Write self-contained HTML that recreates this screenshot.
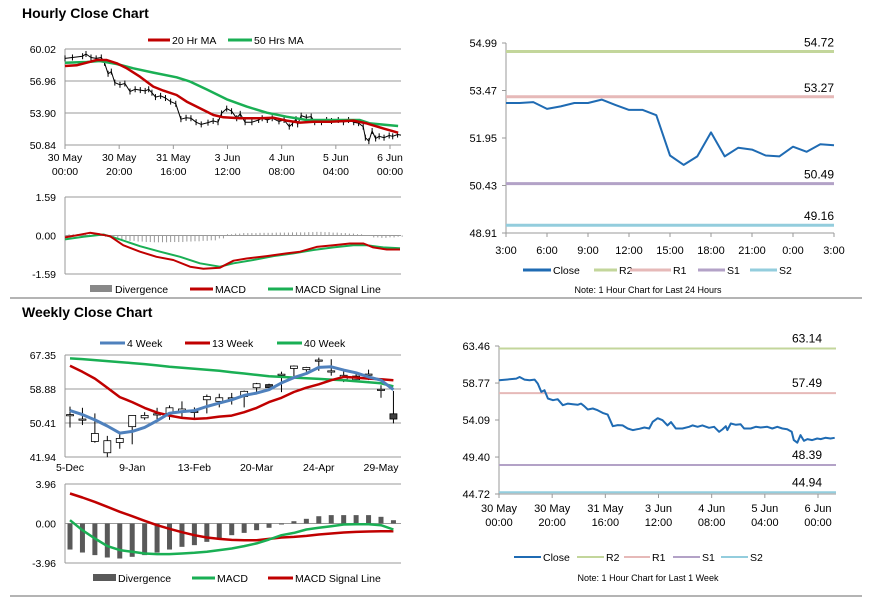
<!DOCTYPE html>
<html><head><meta charset="utf-8"><style>
body{margin:0;background:#fff;}
svg{display:block;font-family:"Liberation Sans",Arial,sans-serif;}
text{font-size:10.5px;fill:#000;}
</style></head><body>
<svg id="s" width="873" height="601" viewBox="0 0 873 601" xmlns="http://www.w3.org/2000/svg">
<defs><clipPath id="c1"><rect x="60" y="40" width="341" height="110"/></clipPath></defs>
<rect width="873" height="601" fill="#fff"/>
<text x="22" y="18" style="font-size:14px;font-weight:bold">Hourly Close Chart</text>
<text x="22" y="317" style="font-size:14px;font-weight:bold">Weekly Close Chart</text>
<line x1="10" y1="298" x2="862" y2="298" stroke="#888" stroke-width="1.2"/>
<line x1="10" y1="596" x2="862" y2="596" stroke="#888" stroke-width="1.2"/>
</svg>
<script>
// ---- data ----
const weekIdx=[0,2.75,6.5,7.75,9.6,11.5,13.4,14.6,15.9,17.1,18.4,20.3,22.1,24,25.9,27.8,29.6,30.9,32.1,33.4,35.3,37.1,39,40.9,42.8,44.7,46.5,48.4,50.3,52.8,54.7,56.5,57.8,59.7,61.5,63.4,64.7,66.5,69,71.5,72.8,74.7,76.5,79,80.9,82.8,84,85.3,85.9,87.2,89.1,90.9,92.2,94.7,96.6,98.4,100.9,102.8,104.7,106.6,108.4,110.1,110.9,112.2,113.4,114.7,116,117.8,119.7,121,122.8,124.7,126.3];
const weekClose=[59.12,59.21,59.33,59.54,59.21,59.12,59.21,58.70,57.65,57.86,56.81,56.60,56.72,55.96,56.17,56.09,56.01,56.17,55.84,55.42,55.54,55.33,54.99,54.78,53.31,53.44,53.40,53.02,52.81,52.98,53.14,53.02,53.86,54.32,54.07,53.40,53.82,53.02,53.02,53.23,53.40,53.23,53.40,53.10,53.23,52.60,52.89,53.31,52.81,53.65,53.48,53.56,53.02,53.02,53.23,53.14,53.23,53.02,53.23,53.02,52.93,52.60,51.54,51.21,52.18,51.46,51.67,51.54,51.75,51.67,51.84,51.75,51.84];
const hrMaIdx=[0,4.3,8,11.7,15.4,19.1,22.8,27.7,32.6,36.3,41.2,44.9,49.8,54.8,58.5,64.6,72,76.9,81.8,86.8,91.7,97.8,106.5,111.4,117.5,123];
const hrMa20=[58.39,58.46,58.71,58.97,58.97,58.65,58.17,57.37,56.42,56.04,55.62,54.99,54.35,53.71,53.49,53.39,53.39,53.45,53.17,52.98,53.07,53.07,53.17,52.91,52.43,52.02];
const hrMa50Idx=[0,8,12.9,19.1,25.2,32.6,41.2,46.2,52.3,59.7,67.1,74.5,81.8,89.2,97.8,108.9,112.6,117.5,123];
const hrMa50=[58.71,58.78,58.87,58.59,58.17,57.76,57.31,56.90,56.16,55.21,54.51,53.93,53.55,53.23,53.23,53.23,52.91,52.79,52.66];
const hrMacdIdx=[0,4.3,9.2,12.9,16.6,21.5,27.7,33.8,40,46.2,51.1,57.2,62.2,67.1,74.5,81.8,86.8,92.9,99.1,105.2,110.2,113.8,118.8,123.7];
const hrMacd=[-0.08,0.01,0.11,0.05,-0.03,-0.40,-0.67,-0.88,-1.01,-1.29,-1.37,-1.33,-1.04,-0.95,-0.85,-0.74,-0.67,-0.47,-0.40,-0.33,-0.33,-0.49,-0.58,-0.58];
const hrSigIdx=[0,6.8,14.2,20.3,27.7,35.1,42.5,49.8,57.2,62.2,69.5,76.9,84.3,91.7,99.1,106.5,111.4,117.5,123.7];
const hrSig=[-0.16,-0.05,0.04,-0.16,-0.44,-0.67,-0.88,-1.15,-1.29,-1.15,-1.01,-0.85,-0.74,-0.60,-0.49,-0.40,-0.40,-0.49,-0.53];
const hrDiv=[0.05,0.06,0.05,0.04,0.02,-0.05,-0.12,-0.18,-0.22,-0.25,-0.27,-0.28,-0.28,-0.27,-0.27,-0.25,-0.24,-0.22,-0.20,-0.12,0.05,0.08,0.10,0.10,0.11,0.11,0.12,0.12,0.13,0.13,0.14,0.15,0.14,0.12,0.10,0.08,0.05,-0.02,-0.08,-0.10,-0.08,-0.05];
const hrTickLabels=[["30 May","00:00"],["30 May","20:00"],["31 May","16:00"],["3 Jun","12:00"],["4 Jun","08:00"],["5 Jun","04:00"],["6 Jun","00:00"]];

const dayTicks=["3:00","6:00","9:00","12:00","15:00","18:00","21:00","0:00","3:00"];
const dayClose=[53.07,53.07,53.10,52.88,52.96,53.07,53.07,53.18,53.01,52.85,52.85,52.68,51.39,51.09,51.36,52.13,51.36,51.64,51.58,51.39,51.36,51.67,51.51,51.75,51.72];
const dayLevels=[54.72,53.27,50.49,49.16];
const weekLevels=[63.14,57.49,48.39,44.94];
const levelNames=["R2","R1","S1","S2"];

const wkOpen=[52.5,51.4,45.8,43.0,45.55,49.5,51.7,52.7,52.8,53.1,53.3,56.2,55.8,56.7,57.0,59.2,59.97,62.57,64.0,63.7,66.1,63.4,61.2,61.2,62.6,58.8,52.7];
const wkClose=[52.5,51.4,47.8,46.0,46.56,52.3,52.3,52.7,54.2,53.9,53.3,57.0,56.7,56.7,58.3,60.2,59.2,62.57,64.6,64.25,66.1,63.4,62.3,62.1,62.6,58.8,51.4];
const wkHigh=[54.5,54.2,52.8,47.2,47.6,52.4,53.1,54.2,54.8,55.8,54.3,57.5,57.7,57.9,58.5,60.4,60.2,63.2,64.75,64.4,66.7,66.3,63.3,63.2,63.7,59.8,58.4];
const wkLow=[49.3,49.9,45.5,41.9,44.0,45.1,51.2,51.4,51.2,51.8,51.7,52.8,54.3,55.0,54.3,58.1,58.7,58.1,62.1,63.2,63.4,62.2,60.6,60.6,61.1,56.7,50.3];
const wk4=[53.51,52.51,51.17,49.66,47.89,48.31,49.32,50.99,52.84,53.26,53.51,54.52,55.36,56.20,57.29,57.87,58.71,60.39,61.73,62.74,64.25,64.42,63.58,62.91,61.90,61.06,58.71];
const wk13=[64.67,63.16,61.48,59.21,56.87,55.61,54.18,53.01,52.26,51.67,51.42,51.58,52.0,52.26,53.09,54.18,55.61,56.70,58.13,59.21,60.05,61.06,61.90,61.73,61.48,61.31,61.06];
const wk40=[66.51,66.34,66.09,65.84,65.59,65.34,65.09,64.75,64.42,64.16,63.91,63.66,63.41,63.07,62.74,62.40,62.07,61.90,61.73,61.56,61.40,61.23,61.06,60.81,60.56,60.31,59.55];
const wkDiv=[-2.61,-2.91,-3.17,-3.41,-3.51,-3.34,-3.17,-2.91,-2.61,-2.34,-2.17,-1.84,-1.50,-1.17,-0.94,-0.67,-0.43,-0.10,0.23,0.47,0.73,0.84,0.84,0.84,0.84,0.67,0.33];
const wkMacd=[0.33,-0.67,-1.50,-2.27,-2.67,-2.84,-3.01,-3.07,-3.07,-3.01,-2.94,-2.84,-2.67,-2.51,-2.27,-2.00,-1.60,-1.17,-0.94,-0.60,-0.43,-0.27,-0.10,-0.07,-0.07,-0.17,-0.60];
const wkSig=[3.01,2.61,2.17,1.67,1.17,0.73,0.27,-0.17,-0.53,-0.87,-1.17,-1.40,-1.54,-1.64,-1.67,-1.67,-1.54,-1.40,-1.34,-1.24,-1.10,-1.00,-0.90,-0.84,-0.80,-0.77,-0.77];
const wkTickLabels=["5-Dec","9-Jan","13-Feb","20-Mar","24-Apr","29-May"];

// ---- helpers ----
const svg=document.getElementById('s');
const NS='http://www.w3.org/2000/svg';
function mk(tag,attrs,parent){const e=document.createElementNS(NS,tag);for(const k in attrs)e.setAttribute(k,attrs[k]);(parent||svg).appendChild(e);return e;}
function lin(d0,d1,r0,r1){return v=>r0+(v-d0)*(r1-r0)/(d1-d0);}
function txt(x,y,s,anchor,name,size){const t=mk('text',{x:x,y:y,'text-anchor':anchor||'start'});if(size)t.style.fontSize=size+'px';t.textContent=s;


return t;}
function hl(x1,y1,x2,y2,col,w,name,parent){const l=mk('line',{x1:x1,y1:y1,x2:x2,y2:y2,stroke:col,'stroke-width':w},parent);


return l;}
function poly(xs,ys,fx,fy,col,w,name,parent){const p=mk('polyline',{points:xs.map((v,i)=>fx(v).toFixed(1)+','+fy(ys[i]).toFixed(1)).join(' '),fill:'none',stroke:col,'stroke-width':w,'stroke-linejoin':'round'},parent);


return p;}
function legendLine(x1,x2,y,col,w,label,name){hl(x1,y,x2,y,col,w,name+'-swatch');txt(x2+2,y+4,label,'start',name+'-label');}
const RED='#c00000',GRN='#1aaf54',BLUE='#4f81bd',DBLUE='#1f6bb3';

// ===== Hourly price panel =====
{const X=lin(0,120,65,390),Y=lin(50.84,60.02,145,49);
[60.02,56.96,53.90].forEach(v=>hl(65,Y(v),401,Y(v),'#999',1,'hourly-gridline'));
hl(65,49,65,145,'#999',1,'hourly-y-axis');hl(65,145,401,145,'#999',1,'hourly-x-axis');
[60.02,56.96,53.90,50.84].forEach(v=>txt(56,Y(v)+4,v.toFixed(2),'end','hourly-y-tick'));
hrTickLabels.forEach((l,i)=>{const x=X(i*20);hl(x,145,x,149,'#999',1,'hourly-x-tickmark');txt(x,161,l[0],'middle','hourly-x-tick');txt(x,175,l[1],'middle','hourly-x-tick');});
const g=mk('g',{'clip-path':'url(#c1)'});


poly(weekIdx,weekClose,X,Y,'#000',1,'hourly-close-ticks',g);
weekClose.forEach((v,i)=>{hl(X(weekIdx[i]),Y(v)-3,X(weekIdx[i]),Y(v)+3,'#000',1,'hourly-close-bar',g);});
poly(hrMa50Idx,hrMa50,X,Y,GRN,2.5,'hourly-ma50-line',g);
poly(hrMaIdx,hrMa20,X,Y,RED,2.5,'hourly-ma20-line',g);
legendLine(148,170,40,RED,3,'20 Hr MA','legend-20hr-ma');legendLine(228,252,40,GRN,3,'50 Hrs MA','legend-50hr-ma');}

// ===== Hourly MACD =====
{const X=lin(0,120,65,390),Y=lin(-1.59,1.59,274,197);
hl(65,197,401,197,'#999',1,'hourly-macd-top');hl(65,Y(0),401,Y(0),'#999',1,'hourly-macd-zero');hl(65,274,401,274,'#999',1,'hourly-macd-bottom');hl(65,197,65,274,'#999',1,'hourly-macd-y-axis');
[1.59,0,-1.59].forEach(v=>txt(56,Y(v)+4,v.toFixed(2),'end','hourly-macd-y-tick'));
hrDiv.forEach((v,i)=>{for(let k=0;k<2;k++){const x=X(i*3+k*1.5);hl(x,Y(0),x,Y(v),'#999',1,'hourly-divergence-bar');}});
poly(hrSigIdx,hrSig,X,Y,GRN,2,'hourly-macd-signal-line');
poly(hrMacdIdx,hrMacd,X,Y,RED,2,'hourly-macd-line');
const r=mk('rect',{x:90,y:285,width:22,height:7,fill:'#888'});


txt(115,293,'Divergence','start','legend-divergence-label');
legendLine(190,213,289,RED,3,'MACD','legend-macd');legendLine(268,293,289,GRN,3,'MACD Signal Line','legend-macd-signal');}

// ===== 24h pivot panel =====
{const X=lin(0,24,506,834),Y=lin(48.91,54.99,233,43);
hl(506,43,506,233,'#999',1,'day-y-axis');hl(506,233,834,233,'#999',1,'day-x-axis');
[54.99,53.47,51.95,50.43,48.91].forEach(v=>{txt(497,Y(v)+4,v.toFixed(2),'end','day-y-tick',11);hl(502,Y(v),506,Y(v),'#999',1,'day-y-tickmark');});
dayTicks.forEach((l,i)=>{const x=X(i*3);hl(x,233,x,237,'#999',1,'day-x-tickmark');txt(x,254,l,'middle','day-x-tick',11);});
const cols=['#c3d69b','#e6b9b8','#b3a2c7','#93cddd'];
dayLevels.forEach((v,i)=>{hl(506,Y(v),834,Y(v),cols[i],3,'day-level-'+levelNames[i].toLowerCase());txt(834,Y(v)-5,v.toFixed(2),'end','day-level-value',12);});
poly(dayClose.map((v,i)=>i),dayClose,X,Y,DBLUE,2,'day-close-line');
legendLine(523,551,270,DBLUE,3,'Close','legend-day-close');
[[594,617],[630,671],[698,725],[750,777]].forEach((p,i)=>legendLine(p[0],p[1],270,cols[i],3,levelNames[i],'legend-day-'+levelNames[i].toLowerCase()));
txt(648,293,'Note: 1 Hour Chart for Last 24 Hours','middle','day-note',9);}

// ===== Weekly price panel =====
{const X=lin(0,25,70,381),Y=lin(41.94,67.35,457,355);
[67.35,58.88,50.41].forEach(v=>hl(65,Y(v),401,Y(v),'#999',1,'weekly-gridline'));
hl(65,355,65,457,'#999',1,'weekly-y-axis');hl(65,457,401,457,'#999',1,'weekly-x-axis');
[67.35,58.88,50.41,41.94].forEach(v=>txt(56,Y(v)+4,v.toFixed(2),'end','weekly-y-tick'));
wkTickLabels.forEach((l,i)=>txt(X(i*5),471,l,'middle','weekly-x-tick'));
wkOpen.forEach((o,i)=>{const x=X(i),c=wkClose[i];
hl(x,Y(wkHigh[i]),x,Y(wkLow[i]),'#000',1,'weekly-candle-wick');
const top=Math.max(o,c),bot=Math.min(o,c);const h=Math.max(1.2,Y(bot)-Y(top));
const rc=mk('rect',{x:x-3.5,y:Y(top),width:7,height:h,fill:c<o?'#404040':'#fff',stroke:'#000','stroke-width':0.8});

});
const wi=wk4.map((v,i)=>i);
poly(wi,wk40,X,Y,GRN,2.5,'weekly-40wk-line');
poly(wi,wk13,X,Y,RED,2.5,'weekly-13wk-line');
poly(wi,wk4,X,Y,BLUE,3,'weekly-4wk-line');
legendLine(100,125,343,BLUE,3,'4 Week','legend-4-week');legendLine(185,210,343,RED,3,'13 Week','legend-13-week');legendLine(277,302,343,GRN,3,'40 Week','legend-40-week');}

// ===== Weekly MACD =====
{const X=lin(0,25,70,381),Y=lin(-3.96,3.96,563,484);
hl(65,484,401,484,'#999',1,'weekly-macd-top');hl(65,Y(0),401,Y(0),'#999',1,'weekly-macd-zero');hl(65,563,401,563,'#999',1,'weekly-macd-bottom');hl(65,484,65,563,'#999',1,'weekly-macd-y-axis');
[3.96,0,-3.96].forEach(v=>txt(56,Y(v)+4,v.toFixed(2),'end','weekly-macd-y-tick'));
wkDiv.forEach((v,i)=>{const y0=Y(0),y1=Y(v);const rc=mk('rect',{x:X(i)-2.5,y:Math.min(y0,y1),width:5,height:Math.abs(y1-y0),fill:'#595959'});

});
const wi=wkMacd.map((v,i)=>i);
poly(wi,wkSig,X,Y,RED,2.5,'weekly-macd-signal-line');
poly(wi,wkMacd,X,Y,GRN,2.5,'weekly-macd-line');
const r=mk('rect',{x:93,y:574,width:23,height:7,fill:'#595959'});


txt(118,582,'Divergence','start','legend-weekly-divergence-label');
legendLine(192,215,578,GRN,3,'MACD','legend-weekly-macd');legendLine(268,293,578,RED,3,'MACD Signal Line','legend-weekly-macd-signal');}

// ===== 1-week pivot panel =====
{const X=lin(0,120,499,818),Y=lin(44.72,63.46,494,346);
hl(499,346,499,494,'#999',1,'week-y-axis');hl(499,494,836,494,'#999',1,'week-x-axis');
[63.46,58.77,54.09,49.40,44.72].forEach(v=>{txt(490,Y(v)+4,v.toFixed(2),'end','week-y-tick',11);hl(495,Y(v),499,Y(v),'#999',1,'week-y-tickmark');});
hrTickLabels.forEach((l,i)=>{const x=X(i*20);hl(x,494,x,498,'#999',1,'week-x-tickmark');txt(x,512,l[0],'middle','week-x-tick',11);txt(x,526,l[1],'middle','week-x-tick',11);});
const cols=['#c3d69b','#e6b9b8','#b3a2c7','#93cddd'];
weekLevels.forEach((v,i)=>{hl(499,Y(v),836,Y(v),cols[i],2,'week-level-'+levelNames[i].toLowerCase());txt(822,Y(v)-6,v.toFixed(2),'end','week-level-value',12);});
poly(weekIdx,weekClose,X,Y,DBLUE,2,'week-close-line');
legendLine(514,541,557,DBLUE,2,'Close','legend-week-close');
[[577,604],[624,650],[673,700],[721,748]].forEach((p,i)=>legendLine(p[0],p[1],557,cols[i],2,levelNames[i],'legend-week-'+levelNames[i].toLowerCase()));
txt(648,581,'Note: 1 Hour Chart for Last 1 Week','middle','week-note',9);}
</script>
</body></html>
